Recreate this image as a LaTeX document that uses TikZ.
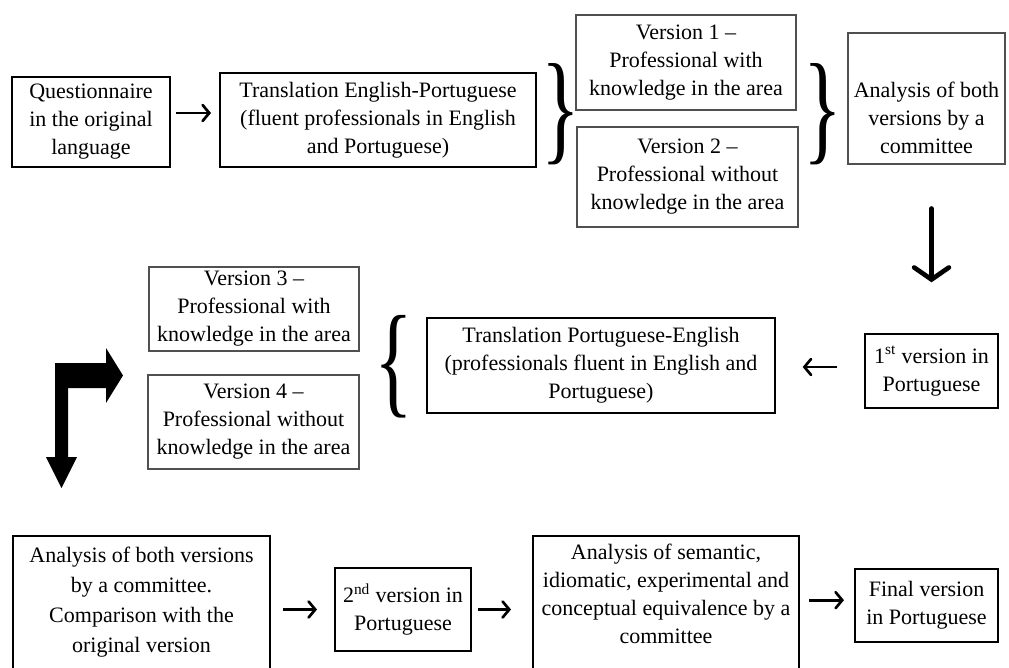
\documentclass[tikz,border=0pt]{standalone}
\usepackage{graphicx}
\usepackage{fontspec}
\setmainfont{Liberation Serif}
\usepackage{tikz}
\usetikzlibrary{
  arrows.meta,
  calc,
  positioning
}
\definecolor{ink}{HTML}{000000}
\definecolor{frame}{HTML}{505050}
\tikzset{
  stepbox/.style={
    draw=ink,
    line width=1.5pt,
    fill=white,
    align=center,
    inner xsep=2pt,
    inner ysep=3pt,
    font=\fontsize{16.5}{21}\selectfont
  },
  versionbox/.style={
    draw=frame,
    line width=0.8pt,
    fill=white,
    align=center,
    inner xsep=2pt,
    inner ysep=3pt,
    font=\fontsize{16.5}{21}\selectfont
  },
  boxsize/.style 2 args={
    minimum width=#1*0.75pt,
    minimum height=#2*0.75pt
  },
  flow/.style={
    -{Straight Barb[length=5pt, width=12pt, line cap=round]},
    line width=2pt,
    draw=ink
  },
  bigflow/.style={
    -{Straight Barb[length=9pt, width=26pt, line cap=round]},
    line width=3.5pt,
    line cap=round,
    draw=ink
  },
  bracket/.style={
    inner sep=0pt,
    text=ink
  }
}

\begin{document}
\begin{tikzpicture}[x=0.75pt,y=-0.75pt]
  \useasboundingbox (0,0) rectangle (1009,667);
  \clip (0,0) rectangle (1009,667);

  % First row.
  \node[stepbox, boxsize={158}{90}] (quest) at (91,122)
    {Questionnaire\\in the original\\language};
  \node[stepbox, boxsize={316}{94}] (trEP) at (378,120)
    {Translation English-Portuguese\\(fluent professionals in English\\and Portuguese)};
  \node[bracket] (brA) at (561,114.5)
    {\resizebox*{29pt}{76pt}{\}}};
  \node[versionbox, boxsize={220}{95}] (ver1) at (686,62.5)
    {Version 1 --\\Professional with\\knowledge in the area};
  \node[versionbox, boxsize={221}{100}] (ver2) at (687.5,177)
    {Version 2 --\\Professional without\\knowledge in the area};
  \node[bracket] (brB) at (822.5,114)
    {\resizebox*{29pt}{76pt}{\}}};
  \node[versionbox, boxsize={157}{131}] (comm1) at (926.5,98.5)
    {\rule{0pt}{40pt}Analysis of both\\versions by a\\committee};

  % Second row.
  \node[stepbox, boxsize={133}{74}] (first) at (931.5,371)
    {1\textsuperscript{st} version in\\Portuguese};
  \node[stepbox, boxsize={348}{95}] (trPE) at (601,365.5)
    {Translation Portuguese-English\\(professionals fluent in English and\\Portuguese)};
  \node[bracket] (brC) at (394,366.5)
    {\resizebox*{29pt}{77pt}{\{}};
  \node[versionbox, boxsize={210}{84}] (ver3) at (254,309)
    {Version 3 --\\Professional with\\knowledge in the area};
  \node[versionbox, boxsize={211}{94}] (ver4) at (253.5,422)
    {Version 4 --\\Professional without\\knowledge in the area};

  % Third row (boxes run off the bottom edge).
  \node[stepbox, minimum width=257*0.75pt, inner ysep=8pt, anchor=north,
    font=\fontsize{16.5}{22.5}\selectfont]
    (comm2) at (141.5,535)
    {Analysis of both versions\\by a committee.\\Comparison with the\\original version\\\mbox{}};
  \node[stepbox, boxsize={136}{83}] (second) at (403,609.5)
    {2\textsuperscript{nd} version in\\Portuguese};
  \node[stepbox, minimum width=266*0.75pt, inner ysep=6pt, anchor=north]
    (equiv) at (666,535)
    {Analysis of semantic,\\idiomatic, experimental and\\conceptual equivalence by a\\committee\\\mbox{}};
  \node[stepbox, boxsize={143}{73}] (final) at (926.5,605.5)
    {Final version\\in Portuguese};

  % Connectors.
  \draw[flow, shorten <=3.75pt, shorten >=6pt]
    ([yshift=6.75pt]quest.east) -- ([yshift=6.75pt]quest.east -| trEP.west);
  \draw[bigflow, shorten <=33pt, shorten >=38pt]
    (comm1.south -| first.north) -- (first.north);
  \draw[flow, shorten <=20pt, shorten >=20pt]
    ([yshift=3pt]first.west) -- ([yshift=3pt]first.west -| trPE.east);
  \draw[flow, shorten <=9pt, shorten >=12.75pt]
    (second.west -| comm2.east) -- (second.west);
  \draw[flow, shorten <=4.5pt, shorten >=15.75pt]
    (second.east) -- (second.east -| equiv.west);
  \draw[flow, shorten <=6.75pt, shorten >=7.5pt]
    ([yshift=4pt]final.west -| equiv.east) -- ([yshift=4pt]final.west);

  % Bent block arrow.
  \fill[ink] (55,363) -- (106,363) -- (106,348) -- (123,375.5)
    -- (106,403) -- (106,388) -- (68,388) -- (68,457) -- (77,457)
    -- (61.5,488) -- (46,457) -- (55,457) -- cycle;
\end{tikzpicture}
\end{document}
